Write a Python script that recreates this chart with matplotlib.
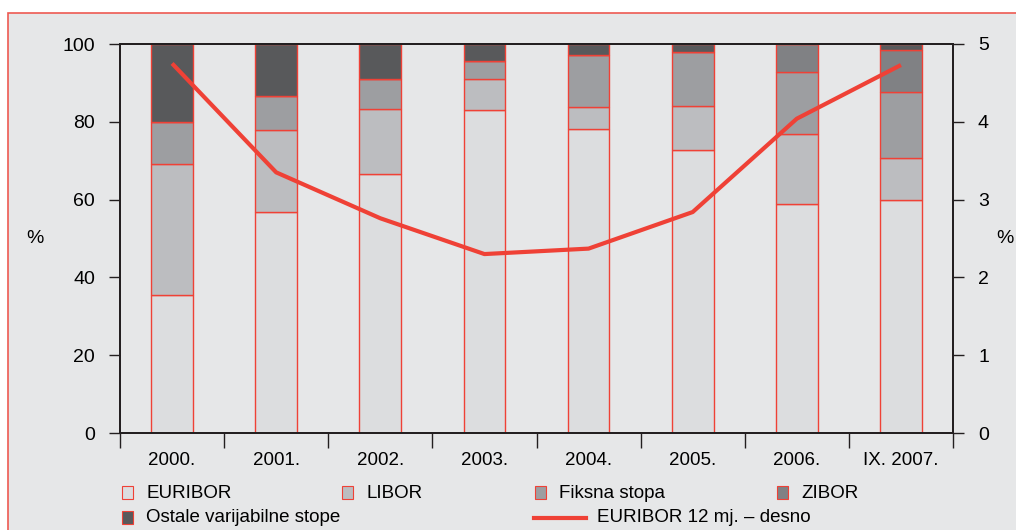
import numpy as np
import matplotlib
matplotlib.use("Agg")
from matplotlib import pyplot as plt
from matplotlib.patches import Rectangle
from matplotlib.lines import Line2D

years = ['2000.', '2001.', '2002.', '2003.', '2004.', '2005.', '2006.', 'IX. 2007.']
euribor = [35.5, 56.7, 66.6, 83.0, 78.1, 72.7, 58.8, 59.8]
libor = [33.6, 21.2, 16.7, 8.1, 5.6, 11.4, 18.0, 11.0]
fiksna = [10.8, 8.8, 7.7, 4.5, 13.6, 13.9, 16.0, 16.9]
zibor = [0.0, 0.0, 0.0, 0.0, 0.0, 0.0, 7.2, 10.8]
ostale = [20.1, 13.3, 9.0, 4.4, 2.7, 2.0, 0.0, 1.5]
euribor_12m = [4.75, 3.35, 2.76, 2.30, 2.37, 2.84, 4.04, 4.73]

series = [('EURIBOR', euribor, '#dcdddf'),
          ('LIBOR', libor, '#bcbdc0'),
          ('Fiksna stopa', fiksna, '#9d9ea1'),
          ('ZIBOR', zibor, '#808184'),
          ('Ostale varijabilne stope', ostale, '#58595b')]

red = '#ef4136'
bg = '#e6e7e8'
axc = '#231f20'
plt.rcParams['font.family'] = ['Liberation Sans', 'DejaVu Sans']

fig = plt.figure(figsize=(10.16, 5.30), dpi=100, facecolor='white')
frame = Rectangle((8 / 1016, -0.2), 1.2, 1.2 - 13 / 530,
                  transform=fig.transFigure, facecolor=bg,
                  edgecolor='#ee5a52', linewidth=1.2, zorder=-10)
fig.patches.append(frame)

ax = fig.add_axes([120 / 1016, 97 / 530, 833 / 1016, 389 / 530])
ax.set_facecolor(bg)
x = np.arange(len(years))
bottom = np.zeros(len(years))
for name, vals, col in series:
    vals = np.array(vals)
    ax.bar(x, vals, 0.4, bottom=bottom, color=col, edgecolor=red, linewidth=1.0, zorder=2)
    bottom += vals

ax.set_xlim(-0.5, len(years) - 0.5)
ax.set_ylim(0, 100)
ax.set_yticks([0, 20, 40, 60, 80, 100])
ax.set_xticks(x)
ax.set_xticklabels(years, fontsize=13.5)
ax.set_xticks(np.arange(-0.5, len(years)), minor=True)
ax.tick_params(axis='x', which='major', length=0, pad=14)
ax.tick_params(axis='x', which='minor', length=11, width=1.0, color=axc, direction='out')
ax.tick_params(axis='y', length=8, width=1.0, color=axc, labelsize=14, pad=10)
for s in ax.spines.values():
    s.set_color(axc)
    s.set_linewidth(1.3)
ax.set_ylabel('%', rotation=0, fontsize=14, va='center', ha='center')
ax.yaxis.set_label_coords(-0.102, 0.5)

ax2 = ax.twinx()
ax2.plot(x, euribor_12m, color=red, linewidth=3.0, zorder=5, solid_capstyle='butt')
ax2.set_ylim(0, 5)
ax2.set_yticks([0, 1, 2, 3, 4, 5])
ax2.tick_params(axis='y', length=8, width=1.0, color=axc, labelsize=14, pad=10)
for s in ax2.spines.values():
    s.set_color(axc)
    s.set_linewidth(1.3)
ax2.set_ylabel('%', rotation=0, fontsize=14, va='center', ha='left')
ax2.yaxis.set_label_coords(1.052, 0.5)

# legend drawn by hand so columns sit where they should
W, H = 1016, 530
entries = [(122, 493, 'EURIBOR', '#dcdddf'),
           (342, 493, 'LIBOR', '#bcbdc0'),
           (535, 493, 'Fiksna stopa', '#9d9ea1'),
           (777, 493, 'ZIBOR', '#808184'),
           (122, 518, 'Ostale varijabilne stope', '#58595b')]
for px, py, label, col in entries:
    fig.patches.append(Rectangle((px / W, 1 - (py + 6) / H), 11 / W, 13 / H,
                                 transform=fig.transFigure, facecolor=col,
                                 edgecolor=red, linewidth=0.8))
    fig.text((px + 24) / W, 1 - py / H, label, fontsize=13.5, va='center', ha='left')
fig.lines.append(Line2D([534 / W, 586 / W], [1 - 518 / H, 1 - 518 / H],
                        transform=fig.transFigure, color=red, linewidth=3.0))
fig.text(597 / W, 1 - 518 / H, 'EURIBOR 12 mj. – desno', fontsize=13.5, va='center', ha='left')

fig.savefig('out.png', dpi=100, facecolor=fig.get_facecolor())
